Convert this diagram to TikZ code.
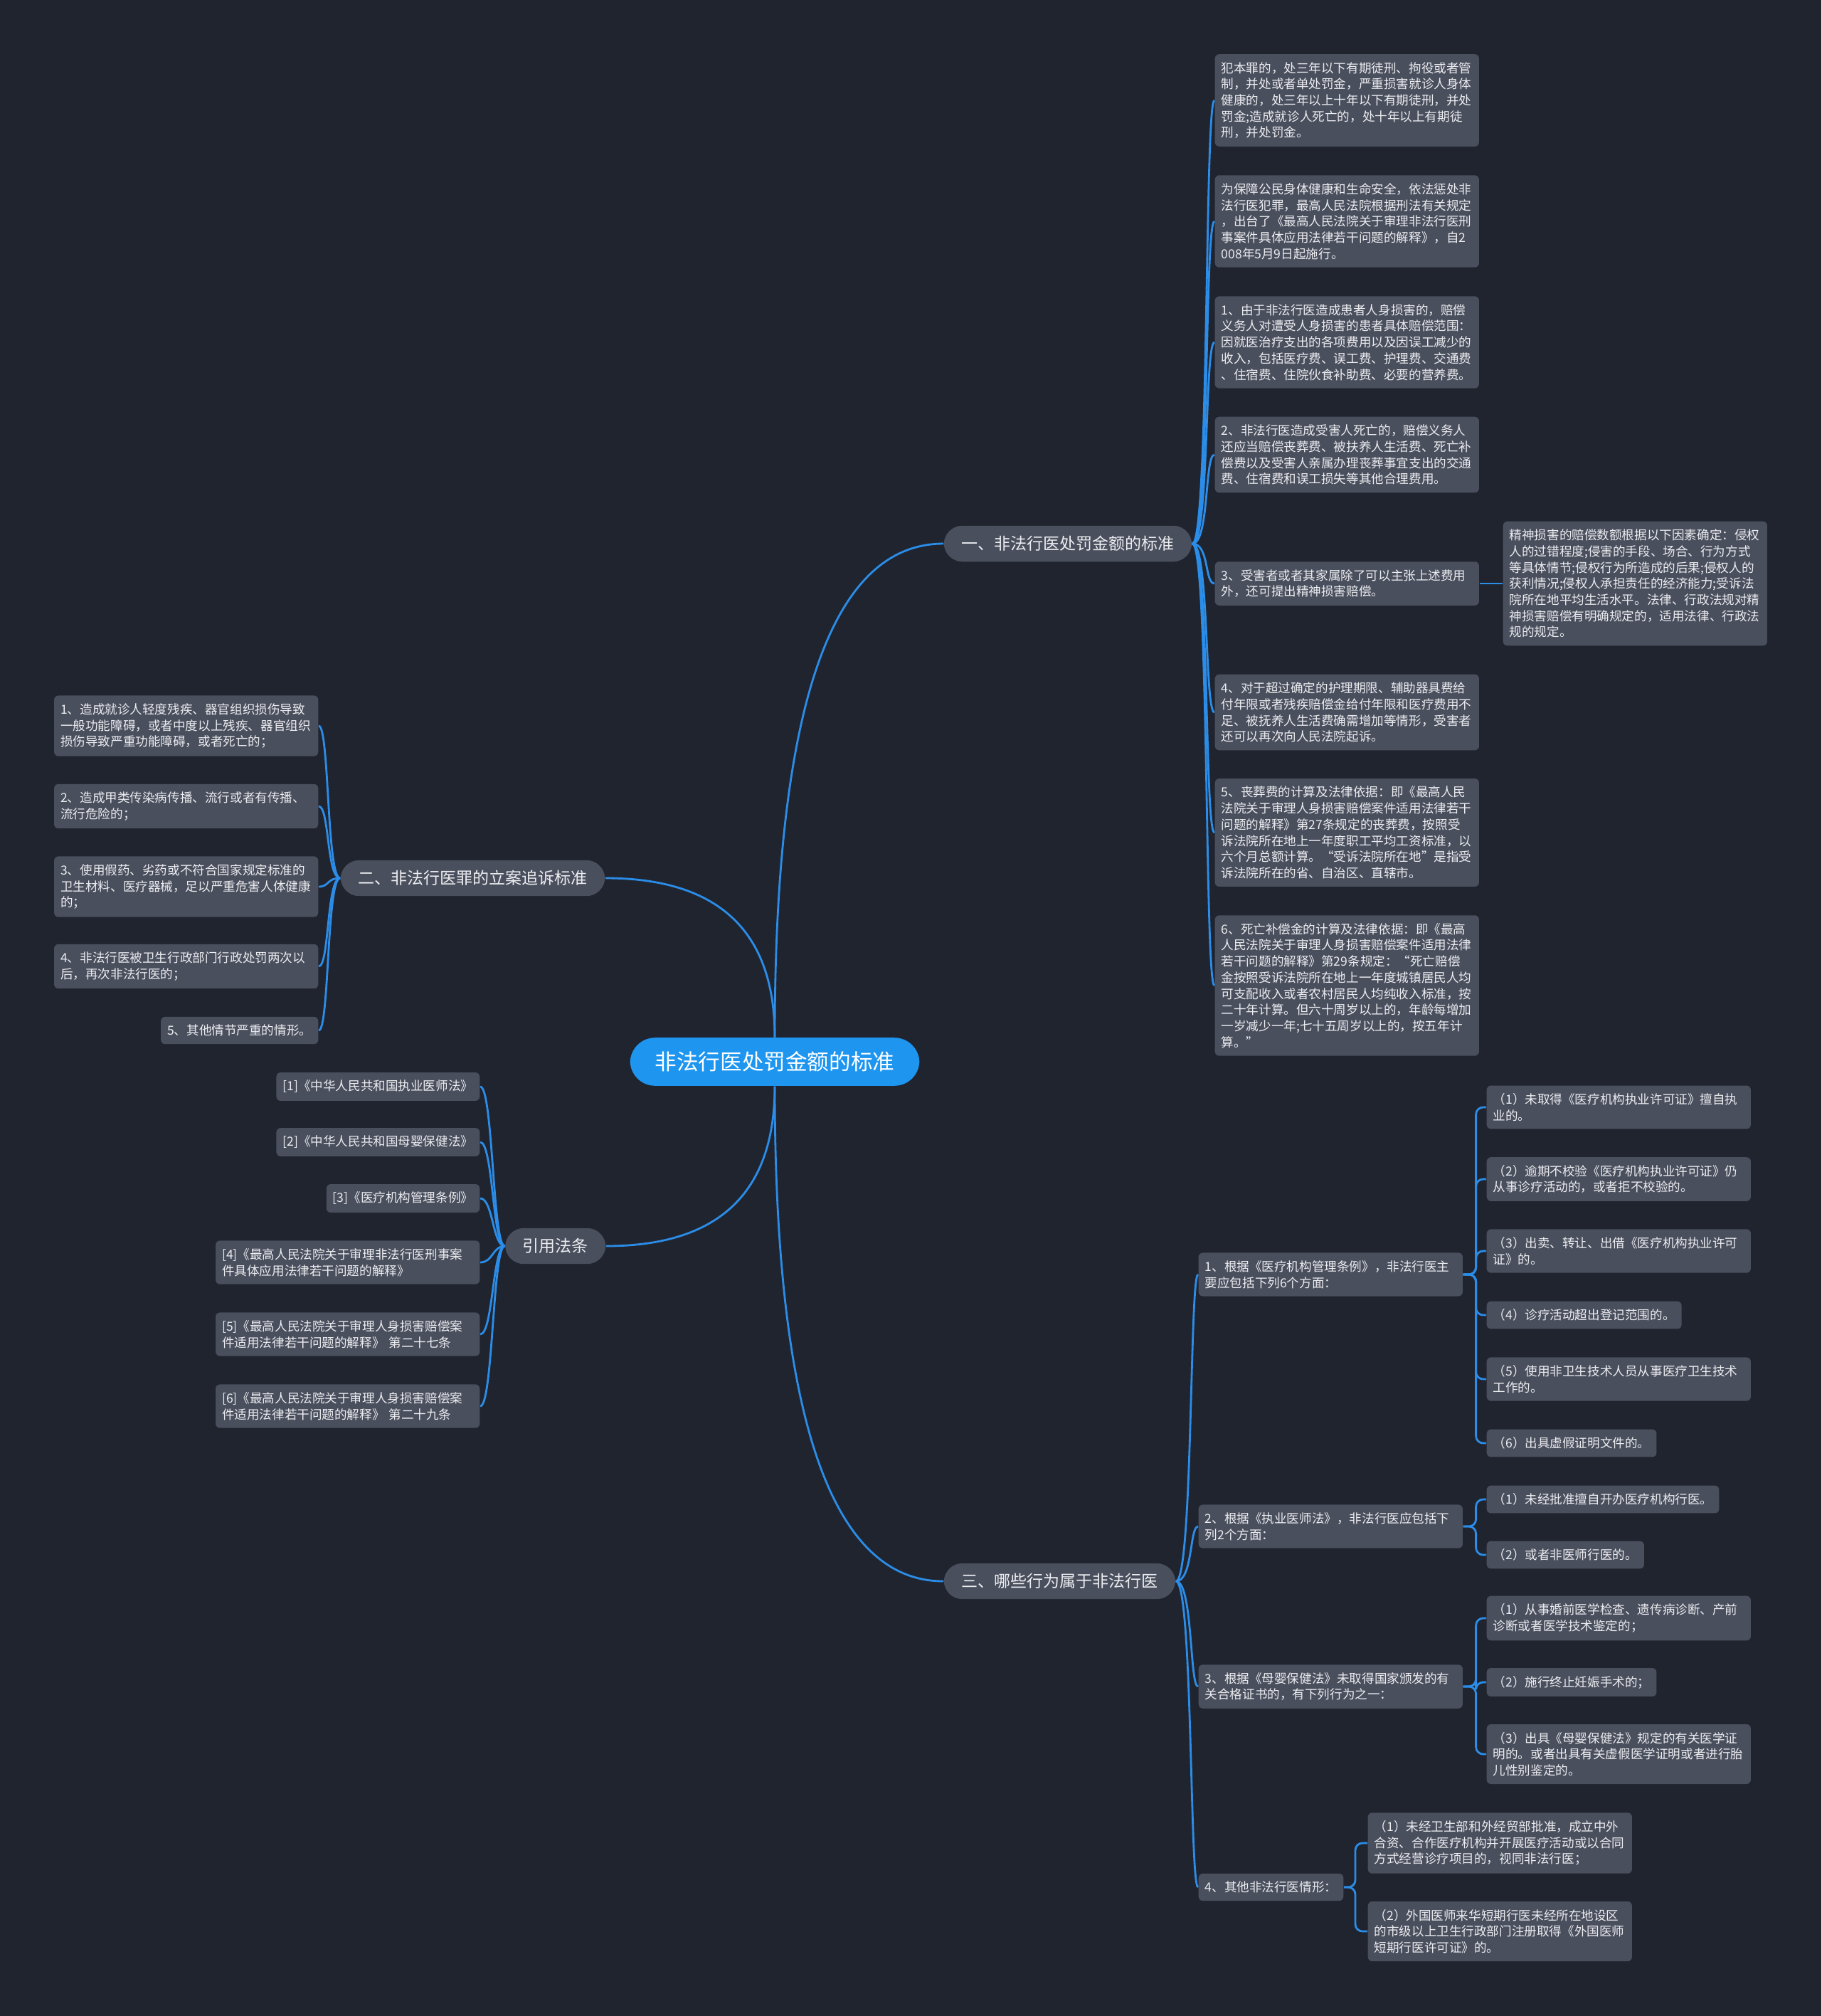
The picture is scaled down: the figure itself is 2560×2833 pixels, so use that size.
\documentclass[tikz,border=0pt]{standalone}
\usepackage{fontspec}
\setmainfont{Noto Sans CJK SC}
\usepackage{xcolor}
\usepackage{tikz}
\usetikzlibrary{positioning, calc}

\definecolor{bgcol}{HTML}{20242F}
\definecolor{boxcol}{HTML}{4A4F5E}
\definecolor{txtcol}{HTML}{ECEDF0}
\definecolor{linkcol}{HTML}{2B8DE8}
\definecolor{rootcol}{HTML}{1E96F0}

\newcommand{\boxfont}{\fontsize{5.0pt}{6.46pt}\selectfont}
\newcommand{\branchfont}{\fontsize{6.55pt}{7.6pt}\selectfont}
\newcommand{\rootfont}{\fontsize{8.7pt}{10pt}\selectfont}

\begin{document}
\begin{tikzpicture}[x=0.01cm, y=-0.01cm,
  every node/.style={text=txtcol},
  box/.style={fill=boxcol, rounded corners=0.06cm, inner xsep=0.09cm, inner ysep=0.11cm, align=left, font=\boxfont},
  widebox/.style={box, text width=3.53cm},
  branch/.style={fill=boxcol, rounded corners=0.26cm, inner xsep=0.245cm, inner ysep=0.145cm, font=\branchfont},
  root/.style={fill=rootcol, rounded corners=0.35cm, inner xsep=0.35cm, inner ysep=0.195cm, font=\rootfont, text=white},
  link/.style={draw=linkcol, line width=0.8pt},
  elbow/.style={link, rounded corners=0.1cm}]
  \fill[bgcol] (0,0) rectangle (2560,2833);
  \useasboundingbox (0,0) rectangle (2560,2833);

  \node[root] (ctr) at (1089,1492) {非法行医处罚金额的标准};
  \node[branch, anchor=west] (b1) at (1326,764) {一、非法行医处罚金额的标准};
  \node[branch, anchor=east] (b2) at (851,1234) {二、非法行医罪的立案追诉标准};
  \node[branch, anchor=west] (b3) at (1326,2222) {三、哪些行为属于非法行医};
  \node[branch, anchor=east] (b4) at (852,1751) {引用法条};

  \node[widebox, anchor=west] (a1) at (1707,141) {犯本罪的，处三年以下有期徒刑、拘役或者管\\制，并处或者单处罚金，严重损害就诊人身体\\健康的，处三年以上十年以下有期徒刑，并处\\罚金;造成就诊人死亡的，处十年以上有期徒\\刑，并处罚金。};
  \node[widebox, anchor=west] (a2) at (1707,311) {为保障公民身体健康和生命安全，依法惩处非\\法行医犯罪，最高人民法院根据刑法有关规定\\，出台了《最高人民法院关于审理非法行医刑\\事案件具体应用法律若干问题的解释》，自2\\008年5月9日起施行。};
  \node[widebox, anchor=west] (a3) at (1707,481) {1、由于非法行医造成患者人身损害的，赔偿\\义务人对遭受人身损害的患者具体赔偿范围：\\因就医治疗支出的各项费用以及因误工减少的\\收入，包括医疗费、误工费、护理费、交通费\\、住宿费、住院伙食补助费、必要的营养费。};
  \node[widebox, anchor=west] (a4) at (1707,639) {2、非法行医造成受害人死亡的，赔偿义务人\\还应当赔偿丧葬费、被扶养人生活费、死亡补\\偿费以及受害人亲属办理丧葬事宜支出的交通\\费、住宿费和误工损失等其他合理费用。};
  \node[widebox, anchor=west] (a5) at (1707,820) {3、受害者或者其家属除了可以主张上述费用\\外，还可提出精神损害赔偿。};
  \node[widebox, anchor=west] (a5c) at (2112,820) {精神损害的赔偿数额根据以下因素确定：侵权\\人的过错程度;侵害的手段、场合、行为方式\\等具体情节;侵权行为所造成的后果;侵权人的\\获利情况;侵权人承担责任的经济能力;受诉法\\院所在地平均生活水平。法律、行政法规对精\\神损害赔偿有明确规定的，适用法律、行政法\\规的规定。};
  \node[widebox, anchor=west] (a6) at (1707,1001) {4、对于超过确定的护理期限、辅助器具费给\\付年限或者残疾赔偿金给付年限和医疗费用不\\足、被抚养人生活费确需增加等情形，受害者\\还可以再次向人民法院起诉。};
  \node[widebox, anchor=west] (a7) at (1707,1170) {5、丧葬费的计算及法律依据：即《最高人民\\法院关于审理人身损害赔偿案件适用法律若干\\问题的解释》第27条规定的丧葬费，按照受\\诉法院所在地上一年度职工平均工资标准，以\\六个月总额计算。“受诉法院所在地”是指受\\诉法院所在的省、自治区、直辖市。};
  \node[widebox, anchor=west] (a8) at (1707,1385) {6、死亡补偿金的计算及法律依据：即《最高\\人民法院关于审理人身损害赔偿案件适用法律\\若干问题的解释》第29条规定：“死亡赔偿\\金按照受诉法院所在地上一年度城镇居民人均\\可支配收入或者农村居民人均纯收入标准，按\\二十年计算。但六十周岁以上的，年龄每增加\\一岁减少一年;七十五周岁以上的，按五年计\\算。”};

  \node[widebox, anchor=east] (c1) at (448,1020) {1、造成就诊人轻度残疾、器官组织损伤导致\\一般功能障碍，或者中度以上残疾、器官组织\\损伤导致严重功能障碍，或者死亡的；};
  \node[widebox, anchor=east] (c2) at (448,1133) {2、造成甲类传染病传播、流行或者有传播、\\流行危险的；};
  \node[widebox, anchor=east] (c3) at (448,1246) {3、使用假药、劣药或不符合国家规定标准的\\卫生材料、医疗器械，足以严重危害人体健康\\的；};
  \node[widebox, anchor=east] (c4) at (448,1358) {4、非法行医被卫生行政部门行政处罚两次以\\后，再次非法行医的；};
  \node[box, anchor=east] (c5) at (448,1448) {5、其他情节严重的情形。};

  \node[box, anchor=east] (r1) at (675,1527) {[1]《中华人民共和国执业医师法》};
  \node[box, anchor=east] (r2) at (675,1605) {[2]《中华人民共和国母婴保健法》};
  \node[box, anchor=east] (r3) at (675,1684) {[3]《医疗机构管理条例》};
  \node[widebox, anchor=east] (r4) at (675,1774) {[4]《最高人民法院关于审理非法行医刑事案\\件具体应用法律若干问题的解释》};
  \node[widebox, anchor=east] (r5) at (675,1875) {[5]《最高人民法院关于审理人身损害赔偿案\\件适用法律若干问题的解释》 第二十七条};
  \node[widebox, anchor=east] (r6) at (675,1976) {[6]《最高人民法院关于审理人身损害赔偿案\\件适用法律若干问题的解释》 第二十九条};

  \node[widebox, anchor=west] (d1) at (1684,1791) {1、根据《医疗机构管理条例》，非法行医主\\要应包括下列6个方面：};
  \node[widebox, anchor=west] (d1a) at (2089,1556) {（1）未取得《医疗机构执业许可证》擅自执\\业的。};
  \node[widebox, anchor=west] (d1b) at (2089,1657) {（2）逾期不校验《医疗机构执业许可证》仍\\从事诊疗活动的，或者拒不校验的。};
  \node[widebox, anchor=west] (d1c) at (2089,1758) {（3）出卖、转让、出借《医疗机构执业许可\\证》的。};
  \node[box, anchor=west] (d1d) at (2089,1848) {（4）诊疗活动超出登记范围的。};
  \node[widebox, anchor=west] (d1e) at (2089,1938) {（5）使用非卫生技术人员从事医疗卫生技术\\工作的。};
  \node[box, anchor=west] (d1f) at (2089,2028) {（6）出具虚假证明文件的。};
  \node[widebox, anchor=west] (d2) at (1684,2145) {2、根据《执业医师法》，非法行医应包括下\\列2个方面：};
  \node[box, anchor=west] (d2a) at (2089,2107) {（1）未经批准擅自开办医疗机构行医。};
  \node[box, anchor=west] (d2b) at (2089,2185) {（2）或者非医师行医的。};
  \node[widebox, anchor=west] (d3) at (1684,2370) {3、根据《母婴保健法》未取得国家颁发的有\\关合格证书的，有下列行为之一：};
  \node[widebox, anchor=west] (d3a) at (2089,2274) {（1）从事婚前医学检查、遗传病诊断、产前\\诊断或者医学技术鉴定的；};
  \node[box, anchor=west] (d3b) at (2089,2364) {（2）施行终止妊娠手术的；};
  \node[widebox, anchor=west] (d3c) at (2089,2465) {（3）出具《母婴保健法》规定的有关医学证\\明的。或者出具有关虚假医学证明或者进行胎\\儿性别鉴定的。};
  \node[box, anchor=west] (d4) at (1684,2652) {4、其他非法行医情形：};
  \node[widebox, anchor=west] (d4a) at (1922,2590) {（1）未经卫生部和外经贸部批准，成立中外\\合资、合作医疗机构并开展医疗活动或以合同\\方式经营诊疗项目的，视同非法行医；};
  \node[widebox, anchor=west] (d4b) at (1922,2714) {（2）外国医师来华短期行医未经所在地设区\\的市级以上卫生行政部门注册取得《外国医师\\短期行医许可证》的。};

  \draw[link] (ctr.north) .. controls +(0,-462) and +(-158,0) .. (b1.west);
  \draw[link] (ctr.north) .. controls +(0,-149) and +(159,0) .. (b2.east);
  \draw[link] (ctr.south) .. controls +(0,463) and +(-158,0) .. (b3.west);
  \draw[link] (ctr.south) .. controls +(0,149) and +(159,0) .. (b4.east);

  \draw[link] (b1.east) .. controls +(24,0) and +(-14,0) .. (a1.west);
  \draw[link] (b1.east) .. controls +(24,0) and +(-14,0) .. (a2.west);
  \draw[link] (b1.east) .. controls +(24,0) and +(-14,0) .. (a3.west);
  \draw[link] (b1.east) .. controls +(24,0) and +(-14,0) .. (a4.west);
  \draw[link] (b1.east) .. controls +(24,0) and +(-14,0) .. (a5.west);
  \draw[link] (b1.east) .. controls +(24,0) and +(-14,0) .. (a6.west);
  \draw[link] (b1.east) .. controls +(24,0) and +(-14,0) .. (a7.west);
  \draw[link] (b1.east) .. controls +(24,0) and +(-14,0) .. (a8.west);
  \draw[link] (a5.east) -- (a5c.west);

  \draw[link] (b2.west) .. controls +(-19,0) and +(15,0) .. (c1.east);
  \draw[link] (b2.west) .. controls +(-19,0) and +(15,0) .. (c2.east);
  \draw[link] (b2.west) .. controls +(-19,0) and +(15,0) .. (c3.east);
  \draw[link] (b2.west) .. controls +(-19,0) and +(15,0) .. (c4.east);
  \draw[link] (b2.west) .. controls +(-19,0) and +(15,0) .. (c5.east);

  \draw[link] (b4.west) .. controls +(-17,0) and +(18,0) .. (r1.east);
  \draw[link] (b4.west) .. controls +(-17,0) and +(18,0) .. (r2.east);
  \draw[link] (b4.west) .. controls +(-17,0) and +(18,0) .. (r3.east);
  \draw[link] (b4.west) .. controls +(-17,0) and +(18,0) .. (r4.east);
  \draw[link] (b4.west) .. controls +(-17,0) and +(18,0) .. (r5.east);
  \draw[link] (b4.west) .. controls +(-17,0) and +(18,0) .. (r6.east);

  \draw[link] (b3.east) .. controls +(24,0) and +(-12,0) .. (d1.west);
  \draw[link] (b3.east) .. controls +(24,0) and +(-12,0) .. (d2.west);
  \draw[link] (b3.east) .. controls +(24,0) and +(-12,0) .. (d3.west);
  \draw[link] (b3.east) .. controls +(24,0) and +(-12,0) .. (d4.west);

  \draw[elbow] (d1.east) -- ++(18,0) |- (d1a.west);
  \draw[elbow] (d1.east) -- ++(18,0) |- (d1b.west);
  \draw[elbow] (d1.east) -- ++(18,0) |- (d1c.west);
  \draw[elbow] (d1.east) -- ++(18,0) |- (d1d.west);
  \draw[elbow] (d1.east) -- ++(18,0) |- (d1e.west);
  \draw[elbow] (d1.east) -- ++(18,0) |- (d1f.west);
  \draw[elbow] (d2.east) -- ++(18,0) |- (d2a.west);
  \draw[elbow] (d2.east) -- ++(18,0) |- (d2b.west);
  \draw[elbow] (d3.east) -- ++(18,0) |- (d3a.west);
  \draw[elbow] (d3.east) -- ++(18,0) |- (d3b.west);
  \draw[elbow] (d3.east) -- ++(18,0) |- (d3c.west);
  \draw[elbow] (d4.east) -- ++(16,0) |- (d4a.west);
  \draw[elbow] (d4.east) -- ++(16,0) |- (d4b.west);
\end{tikzpicture}
\end{document}
